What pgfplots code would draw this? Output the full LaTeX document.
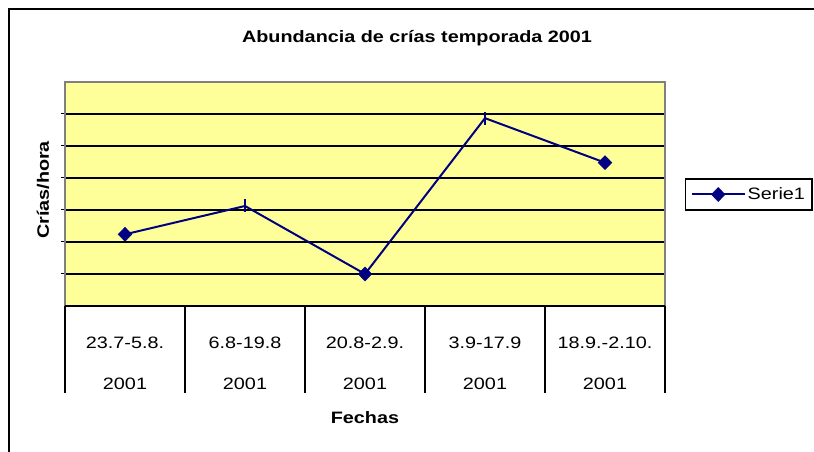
\documentclass[border=0pt]{standalone}
\usepackage{pgfplots}
\pgfplotsset{compat=1.18}
\usepackage{fontspec}
\setmainfont{Liberation Sans}[FakeStretch=1.2]
\definecolor{plotbg}{HTML}{FFFF99}
\definecolor{navyline}{HTML}{000080}
\newcommand\cf{\fontsize{16.5}{19.8}\selectfont}
\begin{document}
\begin{tikzpicture}
\useasboundingbox (0pt,0pt) rectangle (814pt,452pt);
\draw[black, line width=2.5pt] (9pt,443pt) rectangle (900pt,-50pt);
\begin{axis}[
  at={(65pt,146pt)}, anchor=south west,
  scale only axis, width=600pt, height=224pt,
  xmin=-0.5, xmax=4.5, ymin=0, ymax=1.4,
  clip=false,
  axis background/.style={fill=plotbg},
  axis line style={draw=gray, line width=2pt},
  xtick={0,1,2,3,4},
  xticklabels={{23.7-5.8.\\2001},{6.8-19.8\\2001},{20.8-2.9.\\2001},{3.9-17.9\\2001},{18.9.-2.10.\\2001}},
  xtick style={draw=none},
  xticklabel style={align=center, font=\fontsize{16.5}{41}\selectfont, inner sep=0pt, yshift=-27pt},
  ytick={0.2,0.4,0.6,0.8,1.0,1.2},
  yticklabels={},
  ytick pos=left,
  ytick style={draw=black, line width=1pt},
  tick align=outside, major tick length=4pt,
  ymajorgrids, grid style={black, line width=2pt},
  every axis title shift=0pt,
  title={\textbf{Abundancia de crías temporada 2001}},
  title style={font=\cf, at={(axis description cs:0.5867,1.1741)}, anchor=base},
  xlabel={\textbf{Fechas}},
  xlabel style={font=\cf, at={(axis description cs:0.5,-0.5)}, anchor=center},
  ylabel={\textbf{Crías/hora}},
  ylabel style={font=\cf, at={(axis description cs:-0.0367,0.518)}, anchor=center, rotate=0},
  legend style={at={(axis description cs:1.0333,0.5714)}, anchor=north west, draw=black, line width=1.5pt, font=\cf, inner xsep=5pt, inner ysep=7pt, nodes={inner sep=2pt}},
  legend image code/.code={\draw[#1, mark indices={2}] plot coordinates {(0pt,0pt) (26.5pt,0pt) (53pt,0pt)};},
]
\addplot[navyline, line width=2pt, mark=diamond*, mark indices={1,3,5}, mark size=7pt, mark options={xscale=1.3, fill=navyline, draw=navyline, line width=0.5pt}]
  coordinates {(0,0.448) (1,0.625) (2,0.2) (3,1.174) (4,0.896)};
\addlegendentry{Serie1}
\addplot[forget plot, only marks, mark=|, mark size=6.5pt, mark options={draw=navyline, line width=2pt}]
  coordinates {(1,0.625) (3,1.174)};
\draw[black, line width=2pt] (rel axis cs:0,0) -- (rel axis cs:1,0);
\pgfplotsinvokeforeach{-0.5,0.5,1.5,2.5,3.5,4.5}{\draw[black, line width=2pt] (axis cs:#1,0) -- ++(0pt,-87pt);}
\end{axis}
\end{tikzpicture}
\end{document}
